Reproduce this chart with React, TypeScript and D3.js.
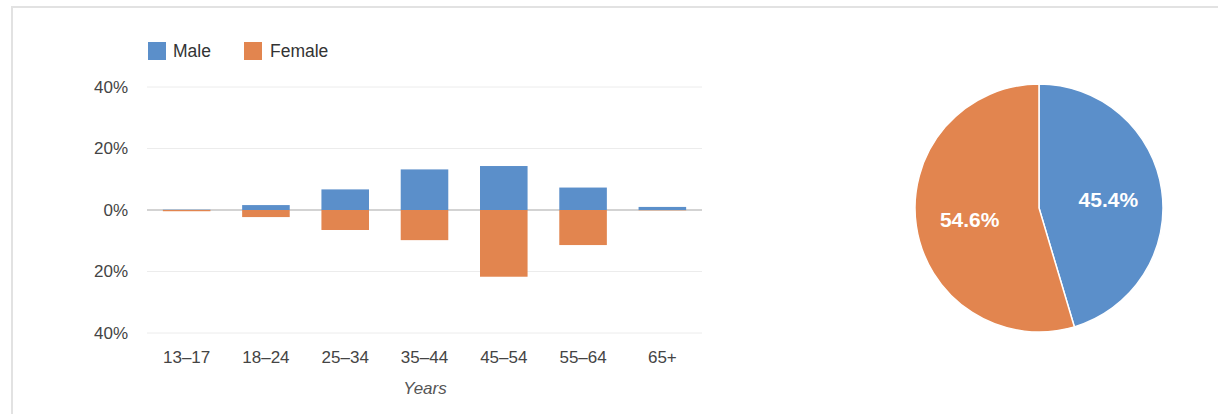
import React from "react";
import * as d3 from "d3";

const ageGroups = ["13–17", "18–24", "25–34", "35–44", "45–54", "55–64", "65+"];
const maleValues = [0.1, 1.6, 6.7, 13.2, 14.3, 7.3, 1.0];
const femaleValues = [0.4, 2.3, 6.5, 9.8, 21.7, 11.4, 0.1];
const yTicks = [40, 20, 0, -20, -40];
const pieLabels = ["Male", "Female"];
const pieValues = [45.4, 54.6];
const colors = ["#5b8fca", "#e2854f"];

export default function App() {
  const W = 1218, H = 414;
  const x = d3.scaleBand<string>().domain(ageGroups).range([147, 702]).paddingInner(0.4).paddingOuter(0.2);
  const y = d3.scaleLinear().domain([-40, 40]).range([333, 87]);
  const font = "'Liberation Sans', Arial, sans-serif";

  const pie = d3.pie<number>().sort(null).value((d) => d)(pieValues);
  const R = 124;
  const arc = d3.arc<d3.PieArcDatum<number>>().innerRadius(0).outerRadius(R);
  const labelArc = d3.arc<d3.PieArcDatum<number>>().innerRadius(R * 0.565).outerRadius(R * 0.565);
  const cx = 1039, cy = 208;

  return (
    <svg width={W} height={H} style={{ position: "absolute", left: 0, top: 0, fontFamily: font }}>
      <rect x={0} y={0} width={W} height={H} fill="#fff" />
      <rect x={12} y={7} width={W + 20} height={H + 20} fill="#fff" stroke="#e2e2e2" strokeWidth={2} />
      {/* legend */}
      <rect x={148} y={42} width={18} height={18} fill={colors[0]} />
      <text x={173} y={51} dy="0.35em" fontSize={17.5} fill="#333">Male</text>
      <rect x={244} y={42} width={18} height={18} fill={colors[1]} />
      <text x={270} y={51} dy="0.35em" fontSize={17.5} fill="#333">Female</text>
      {/* grid */}
      {yTicks.map((t) => (
        <g key={t}>
          <line x1={147} x2={702} y1={y(t)} y2={y(t)} stroke={t === 0 ? "#c4c4c4" : "#ececec"} strokeWidth={t === 0 ? 1.5 : 1} />
          <text x={128} y={y(t)} dy="0.35em" textAnchor="end" fontSize={17} fill="#444">{Math.abs(t)}%</text>
        </g>
      ))}
      {/* bars */}
      {ageGroups.map((g, i) => (
        <g key={g}>
          <rect x={x(g)} width={x.bandwidth()} y={y(maleValues[i])} height={y(0) - y(maleValues[i])} fill={colors[0]} />
          <rect x={x(g)} width={x.bandwidth()} y={y(0)} height={y(-femaleValues[i]) - y(0)} fill={colors[1]} />
          <text x={(x(g) as number) + x.bandwidth() / 2} y={357} dy="0.35em" textAnchor="middle" fontSize={17} fill="#444">{g}</text>
        </g>
      ))}
      <text x={425} y={388} dy="0.35em" textAnchor="middle" fontSize={17} fontStyle="italic" fill="#555">Years</text>
      {/* pie */}
      <g transform={`translate(${cx},${cy})`}>
        {pie.map((d, i) => (
          <path key={pieLabels[i]} d={arc(d) as string} fill={colors[i]} stroke="#fff" strokeWidth={1.5} />
        ))}
        {pie.map((d, i) => {
          const [lx, ly] = labelArc.centroid(d);
          return (
            <text key={"l" + i} x={lx} y={ly + 2} dy="0.35em" textAnchor="middle" fontSize={21} fontWeight="bold" fill="#fff">
              {d.data.toFixed(1)}%
            </text>
          );
        })}
      </g>
    </svg>
  );
}
